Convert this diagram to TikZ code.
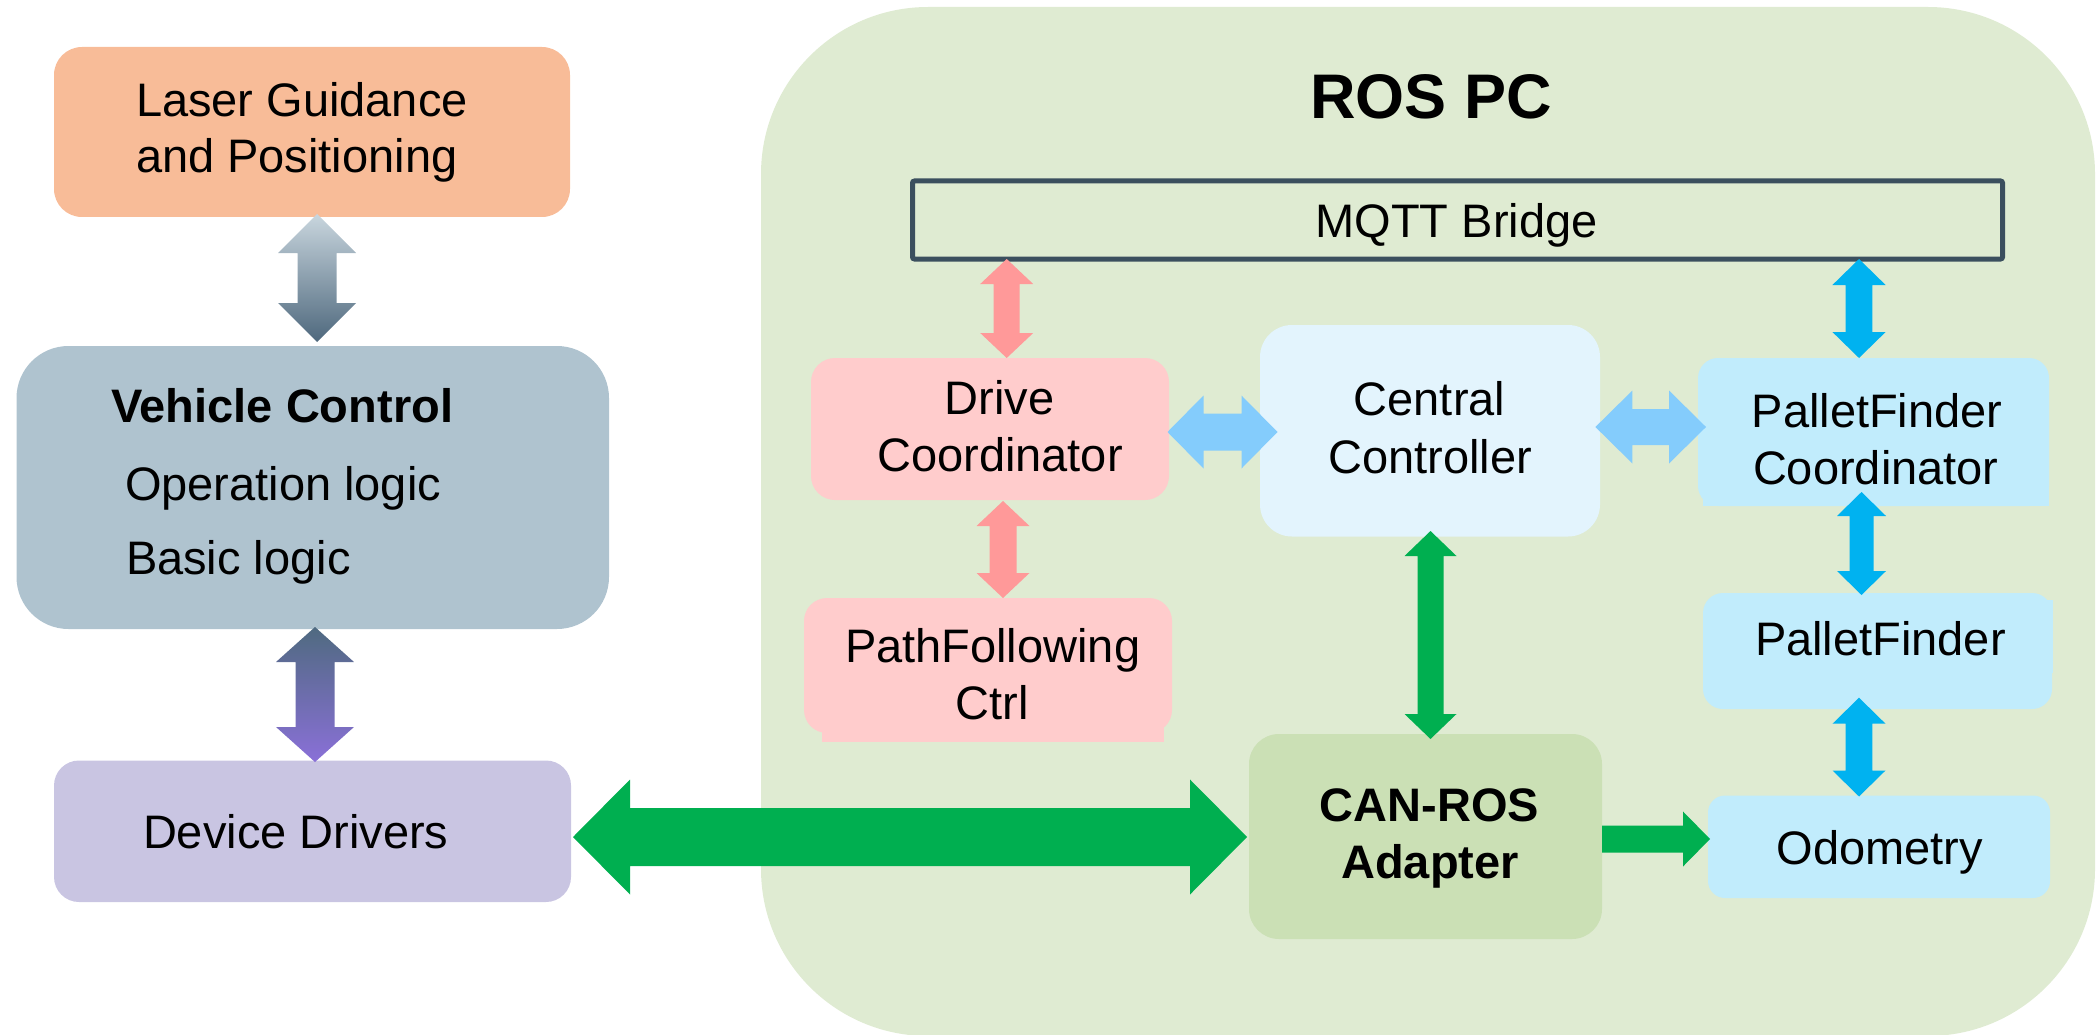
\documentclass[tikz,border=0pt]{standalone}
\usepackage{fontspec}
\setmainfont{Liberation Sans}
\usetikzlibrary{calc}
\definecolor{panelc}{HTML}{DFEBD2}
\definecolor{laserc}{HTML}{F8BC98}
\definecolor{vehc}{HTML}{AFC3CF}
\definecolor{devc}{HTML}{C9C5E2}
\definecolor{mqttc}{HTML}{3B4F5E}
\definecolor{pinkc}{HTML}{FFCCCC}
\definecolor{pinka}{HTML}{FF9999}
\definecolor{centc}{HTML}{E3F4FD}
\definecolor{lbluea}{HTML}{84CCFC}
\definecolor{cyanc}{HTML}{C1ECFC}
\definecolor{cyana}{HTML}{00B2F0}
\definecolor{canc}{HTML}{CBE0B5}
\definecolor{greena}{HTML}{00AF50}
\definecolor{aonetop}{HTML}{C9D6DE}
\definecolor{aonebot}{HTML}{4E687D}
\definecolor{atwotop}{HTML}{4F6A80}
\definecolor{atwobot}{HTML}{8A70D8}
% vertical double block arrow: #1 style, #2 top tip, #3 bottom tip, #4 shaft half width, #5 head half width, #6 head length
\newcommand\vdarrow[6]{\path[#1] let \p1=(#2), \p2=(#3) in
  (\x1,\y1) -- (\x1+#5,\y1-#6) -- (\x1+#4,\y1-#6) -- (\x1+#4,\y2+#6) -- (\x1+#5,\y2+#6) -- (\x1,\y2)
  -- (\x1-#5,\y2+#6) -- (\x1-#4,\y2+#6) -- (\x1-#4,\y1-#6) -- (\x1-#5,\y1-#6) -- cycle;}
% horizontal double block arrow: #2 left tip, #3 right tip
\newcommand\hdarrow[6]{\path[#1] let \p1=(#2), \p2=(#3) in
  (\x1,\y1) -- (\x1+#6,\y1+#5) -- (\x1+#6,\y1+#4) -- (\x2-#6,\y1+#4) -- (\x2-#6,\y1+#5) -- (\x2,\y1)
  -- (\x2-#6,\y1-#5) -- (\x2-#6,\y1-#4) -- (\x1+#6,\y1-#4) -- (\x1+#6,\y1-#5) -- cycle;}
% horizontal single block arrow pointing right: #2 start, #3 tip
\newcommand\harrow[6]{\path[#1] let \p1=(#2), \p2=(#3) in
  (\x1,\y1+#4) -- (\x2-#6,\y1+#4) -- (\x2-#6,\y1+#5) -- (\x2,\y1) -- (\x2-#6,\y1-#5) -- (\x2-#6,\y1-#4)
  -- (\x1,\y1-#4) -- cycle;}
\begin{document}
\begin{tikzpicture}[x=1pt,y=-1pt,
  box/.style={rectangle, inner sep=0pt, outer sep=0pt},
  txt/.style={inner sep=0pt, outer sep=0pt, font=\fontsize{47}{56}\selectfont, text=black},
  btxt/.style={inner sep=0pt, outer sep=0pt, font=\fontsize{47}{56}\selectfont\bfseries, text=black}]
\useasboundingbox (0,0) rectangle (2098,1035);

% ROS PC panel
\node[box, fill=panelc, rounded corners=167pt, minimum width=1334pt, minimum height=1029pt] (ros) at (1428,521.5) {};

% left column boxes
\node[box, fill=laserc, rounded corners=28pt, minimum width=516pt, minimum height=170pt] (laser) at (312,132) {};
\node[box, fill=vehc, rounded corners=52pt, minimum width=592.5pt, minimum height=283pt] (vehicle) at (312.75,487.5) {};
\node[box, fill=devc, rounded corners=25pt, minimum width=517pt, minimum height=141.5pt] (device) at (312.5,831.25) {};

% ROS boxes
\node[box, draw=mqttc, line width=5pt, rounded corners=2pt, minimum width=1090pt, minimum height=78pt] (mqtt) at (1457.5,220) {};
\node[box, fill=pinkc, rounded corners=24pt, minimum width=358pt, minimum height=142pt] (drive) at (990,429) {};
\node[box, fill=pinkc, rounded corners=23pt, minimum width=368pt, minimum height=135pt] (pathf) at (988,665.5) {};
\fill[pinkc] (822,700) rectangle (1164,742);
\node[box, fill=centc, rounded corners=32pt, minimum width=340pt, minimum height=211.5pt] (central) at (1430,430.75) {};
\node[box, fill=canc, rounded corners=30pt, minimum width=353pt, minimum height=205pt] (can) at (1425.5,836.5) {};
\node[box, fill=cyanc, rounded corners=20pt, minimum width=351pt, minimum height=148pt] (pfc) at (1873.5,432) {};
\fill[cyanc] (1703,440) rectangle (2049,506);
\node[box, fill=cyanc, rounded corners=20pt, minimum width=349pt, minimum height=116pt] (pf) at (1877.5,651) {};
\fill[cyanc] (2040,600) rectangle (2053,673);
\node[box, fill=cyanc, rounded corners=17pt, minimum width=342pt, minimum height=102.5pt] (odo) at (1879,846.75) {};

% connectors
\coordinate (a1t) at ([xshift=5pt,yshift=3pt]laser.south);
\coordinate (a1b) at ([xshift=4.25pt,yshift=4pt]vehicle.north);
\vdarrow{top color=aonetop,bottom color=aonebot}{a1t}{a1b}{19.5pt}{39pt}{39pt}
\coordinate (a2t) at ([xshift=2.25pt,yshift=2pt]vehicle.south);
\coordinate (a2b) at ([xshift=2.5pt,yshift=-1.5pt]device.north);
\vdarrow{top color=atwotop,bottom color=atwobot}{a2t}{a2b}{19.5pt}{39pt}{35pt}

\coordinate (p1b) at ([xshift=16.7pt]drive.north);
\coordinate (p1t) at (p1b |- mqtt.south);
\vdarrow{fill=pinka}{p1t}{p1b}{13pt}{26.5pt}{25pt}
\coordinate (p2t) at ([xshift=13pt,yshift=-1pt]drive.south);
\coordinate (p2b) at (p2t |- pathf.north);
\vdarrow{fill=pinka}{p2t}{p2b}{13.5pt}{26.5pt}{25pt}

\coordinate (g1t) at ([xshift=0.5pt,yshift=5.5pt]central.south);
\coordinate (g1b) at ([yshift=-5pt]g1t |- can.north);
\vdarrow{fill=greena}{g1t}{g1b}{13pt}{26pt}{25pt}

\coordinate (b1b) at ([xshift=-14.5pt]pfc.north);
\coordinate (b1t) at (b1b |- mqtt.south);
\vdarrow{fill=cyana}{b1t}{b1b}{13.3pt}{26.6pt}{26pt}
\coordinate (b2t) at ([xshift=-12pt,yshift=14pt]pfc.south);
\coordinate (b2b) at ([yshift=-2pt]b2t |- pf.north);
\vdarrow{fill=cyana}{b2t}{b2b}{12pt}{24.5pt}{24pt}
\coordinate (b3t) at ([xshift=-18.5pt,yshift=11.3pt]pf.south);
\coordinate (b3b) at ([yshift=-1pt]b3t |- odo.north);
\vdarrow{fill=cyana}{b3t}{b3b}{13.3pt}{26.5pt}{26pt}

\coordinate (l1l) at ([xshift=-1.5pt,yshift=-3pt]drive.east);
\coordinate (l1r) at ([xshift=17.5pt]l1l -| central.west);
\hdarrow{fill=lbluea}{l1l}{l1r}{18.5pt}{36.5pt}{36pt}
\coordinate (l2l) at ([xshift=-4.6pt,yshift=3.75pt]central.east);
\coordinate (l2r) at ([xshift=8pt]l2l -| pfc.west);
\hdarrow{fill=lbluea}{l2l}{l2r}{18pt}{36.5pt}{37pt}

\coordinate (bgl) at ([xshift=2pt,yshift=-5.75pt]device.east);
\coordinate (bgr) at ([xshift=-2pt]bgl -| can.west);
\hdarrow{fill=greena}{bgl}{bgr}{29pt}{57.5pt}{57pt}
\coordinate (sgl) at ([yshift=-2.5pt]can.east);
\coordinate (sgr) at ([xshift=2pt]sgl -| odo.west);
\harrow{fill=greena}{sgl}{sgr}{13.5pt}{27.5pt}{27pt}

% texts
\node[btxt, font=\fontsize{63}{70}\selectfont\bfseries, anchor=base] (title) at (1431,119) {ROS PC};
\node[txt, anchor=base west] (laser1) at (136,117) {Laser Guidance};
\node[txt, anchor=base west] (laser2) at (136,173) {and Positioning};
\node[btxt, anchor=base west] (veh1) at (111,422) {Vehicle Control};
\node[txt, anchor=base west] (veh2) at (125,500) {Operation logic};
\node[txt, anchor=base west] (veh3) at (126,574) {Basic logic};
\node[txt, anchor=base west] (dev1) at (143,848.6) {Device Drivers};
\node[txt, anchor=base west] (mqtt1) at (1315.5,237) {MQTT Bridge};
\node[txt, anchor=base] (drive1) at (999.5,414) {Drive};
\node[txt, anchor=base] (drive2) at (1000,471.5) {Coordinator};
\node[txt, anchor=base west] (path1) at (845,662) {PathFollowing};
\node[txt, anchor=base] (path2) at (992.5,719.5) {Ctrl};
\node[txt, anchor=base] (cent1) at (1429.5,415) {Central};
\node[txt, anchor=base] (cent2) at (1430,473.4) {Controller};
\node[btxt, anchor=base] (can1) at (1429.5,821) {CAN-ROS};
\node[btxt, anchor=base] (can2) at (1430,878) {Adapter};
\node[txt, anchor=base west] (pfc1) at (1751.7,427.5) {PalletFinder};
\node[txt, anchor=base west] (pfc2) at (1753,484) {Coordinator};
\node[txt, anchor=base west] (pf1) at (1755,655) {PalletFinder};
\node[txt, anchor=base west] (odo1) at (1776.5,864) {Odometry};
\end{tikzpicture}
\end{document}
